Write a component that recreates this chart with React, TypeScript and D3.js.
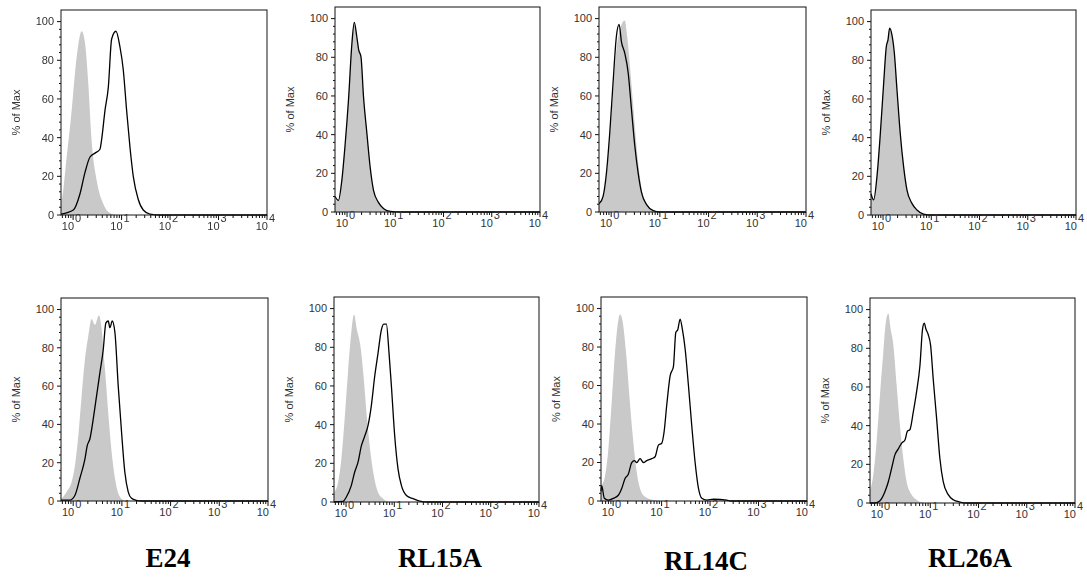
import React from "react";
import * as d3 from "d3";

type Pt = [number, number]; // [log10 intensity, % of max]

// ---- data: [log10(fluorescence), % of Max] ----
const e24TopControl: Pt[] = [[-0.25,7],[-0.236,8],[-0.133,30],[-0.03,54],[0.074,82],[0.177,95],[0.245,89],[0.313,68],[0.38,39],[0.486,18],[0.62,6],[0.76,1],[0.89,0]];
const e24TopSample: Pt[] = [[-0.25,0.5],[0.004,2.6],[0.142,11],[0.245,22],[0.348,30],[0.451,32],[0.554,34],[0.588,39],[0.657,54],[0.726,66],[0.795,91],[0.884,95],[0.966,87],[1.035,75],[1.104,54],[1.173,35],[1.241,20],[1.344,8],[1.447,2.6],[1.585,0.5],[1.8,0],[4,0]];

const rl15aTopControl: Pt[] = [[-0.25,6],[-0.18,6],[-0.11,16],[-0.04,35],[0.03,58],[0.1,87],[0.15,97],[0.2,90],[0.24,84],[0.29,79],[0.34,60],[0.41,41],[0.48,23],[0.55,11],[0.65,5],[0.76,1.7],[0.9,0]];
const rl15aTopSample: Pt[] = [[-0.25,8],[-0.18,6],[-0.11,16],[-0.04,35],[0.03,58],[0.1,87],[0.15,98],[0.2,91],[0.24,84],[0.29,80],[0.34,60],[0.41,41],[0.48,23],[0.55,11],[0.65,5],[0.76,1.7],[0.9,0.3],[1.1,0],[4,0]];

const rl14cTopControl: Pt[] = [[-0.25,5],[-0.167,7],[-0.098,18],[-0.029,38],[0.039,62],[0.108,84],[0.177,94],[0.28,99],[0.328,91],[0.383,76],[0.452,55],[0.521,34],[0.589,18],[0.658,8],[0.761,3],[0.898,0]];
const rl14cTopSample: Pt[] = [[-0.25,4.5],[-0.236,4.7],[-0.167,8],[-0.098,20],[-0.029,41],[0.039,67],[0.108,91],[0.163,97],[0.211,88],[0.28,82],[0.349,72],[0.417,53],[0.486,34],[0.555,20],[0.624,10],[0.727,3.8],[0.864,0.7],[1.0,0],[4,0]];

const rl26aTopControl: Pt[] = [[-0.25,10],[-0.195,8],[-0.126,20],[-0.057,42],[0.012,68],[0.067,87],[0.102,90],[0.136,96],[0.185,93],[0.233,84],[0.288,65],[0.357,42],[0.426,25],[0.495,13],[0.599,6],[0.702,2.6],[0.84,0.5],[0.95,0]];
const rl26aTopSample: Pt[] = [[-0.25,11],[-0.195,7.8],[-0.126,20],[-0.057,42],[0.012,68],[0.067,87],[0.102,90.5],[0.136,96.6],[0.185,93],[0.233,84],[0.288,65],[0.357,42],[0.426,25],[0.495,13],[0.599,6],[0.702,2.6],[0.84,0.5],[1.0,0],[4,0]];

const e24BotControl: Pt[] = [[-0.25,1.2],[-0.236,1.4],[-0.134,4.8],[-0.031,10],[0.037,18.7],[0.105,34],[0.174,55],[0.242,74],[0.31,86],[0.378,95],[0.447,92],[0.529,97],[0.583,90],[0.652,69],[0.72,46],[0.788,26],[0.857,12],[0.925,4],[1.027,0.5],[1.1,0]];
const e24BotSample: Pt[] = [[-0.25,0.5],[-0.134,0.5],[-0.066,0.5],[0.037,3],[0.139,12],[0.242,22],[0.29,29],[0.344,32.5],[0.413,43],[0.481,55],[0.549,67],[0.617,79],[0.672,93],[0.72,94],[0.754,90.5],[0.802,94],[0.857,88],[0.925,60],[0.993,36],[1.061,15],[1.13,4.8],[1.198,1.4],[1.3,0.3],[1.4,0],[4,0]];

const rl15aBotControl: Pt[] = [[-0.25,4],[-0.236,5],[-0.167,10],[-0.098,22],[-0.029,43],[0.04,67],[0.11,88],[0.165,97],[0.227,89],[0.296,81],[0.366,64],[0.435,43],[0.504,26],[0.573,14],[0.663,5],[0.767,1.7],[0.87,0.3],[0.95,0]];
const rl15aBotSample: Pt[] = [[-0.25,0],[-0.063,0.3],[0.006,2.6],[0.11,8.6],[0.179,15.5],[0.248,20.6],[0.317,29],[0.386,34],[0.455,39.5],[0.525,50],[0.594,65],[0.663,77],[0.732,89],[0.781,92],[0.836,92],[0.891,77],[0.94,60],[1.009,34],[1.078,17],[1.147,8.6],[1.251,3.4],[1.389,1.7],[1.527,0.5],[1.7,0],[4,0]];

const rl14cBotControl: Pt[] = [[-0.25,7],[-0.236,8],[-0.167,13],[-0.098,27],[-0.03,51],[0.039,77],[0.108,94],[0.143,97],[0.198,93],[0.267,77],[0.335,55],[0.404,34],[0.487,15],[0.556,6.5],[0.659,2.2],[0.831,0.5],[0.969,0]];
const rl14cBotSample: Pt[] = [[-0.25,5],[-0.236,8],[-0.181,1.4],[-0.098,0.5],[0.005,1.4],[0.108,3],[0.177,6.5],[0.246,11.7],[0.315,14],[0.384,20],[0.439,21],[0.487,20],[0.556,22],[0.625,20],[0.694,21],[0.797,22],[0.866,23],[0.935,29],[1.003,30],[1.052,36],[1.107,50],[1.176,65],[1.245,70],[1.293,87.6],[1.334,89],[1.382,94.5],[1.43,89],[1.486,79],[1.554,60],[1.623,39],[1.692,20],[1.761,6.5],[1.83,1.4],[1.933,0.5],[2.071,0.9],[2.346,0.5],[2.415,0],[4,0]];

const rl26aBotControl: Pt[] = [[-0.25,7],[-0.236,7.7],[-0.181,14.6],[-0.112,32],[-0.043,56],[0.026,78],[0.081,94],[0.13,98],[0.178,90],[0.233,82],[0.302,61],[0.371,40],[0.44,23],[0.509,11],[0.613,4.3],[0.716,1.7],[0.82,0.3],[0.9,0]];
const rl26aBotSample: Pt[] = [[-0.25,0],[-0.146,0],[-0.043,1.2],[0.061,6],[0.13,11],[0.199,18],[0.268,25],[0.337,28],[0.406,31],[0.475,32.6],[0.523,37],[0.578,38],[0.647,47],[0.716,57.6],[0.785,71],[0.84,90],[0.875,93],[0.909,90],[0.958,87],[1.006,81.6],[1.061,64],[1.13,44],[1.199,23],[1.268,11],[1.372,4.3],[1.475,1.7],[1.613,0.5],[1.75,0],[4,0]];

const cloneNames = ["E24", "RL15A", "RL14C", "RL26A"];
const yTickValues = [0, 20, 40, 60, 80, 100];
const xDecades = [0, 1, 2, 3, 4];
const yLabel = "% of Max";

// ---- layout ----
const X_MIN = Math.pow(10, -0.25);
const X_MAX = 1e4;
const Y_MAX = 106;

const panels = [
  { control: e24TopControl, sample: e24TopSample, left: 61, top: 10, w: 206, h: 205, blur: true },
  { control: rl15aTopControl, sample: rl15aTopSample, left: 335, top: 7, w: 205, h: 205 },
  { control: rl14cTopControl, sample: rl14cTopSample, left: 599, top: 7, w: 207, h: 205 },
  { control: rl26aTopControl, sample: rl26aTopSample, left: 871, top: 10, w: 205, h: 205 },
  { control: e24BotControl, sample: e24BotSample, left: 61, top: 298, w: 207, h: 203 },
  { control: rl15aBotControl, sample: rl15aBotSample, left: 334, top: 297, w: 205, h: 205 },
  { control: rl14cBotControl, sample: rl14cBotSample, left: 601, top: 297, w: 206, h: 204 },
  { control: rl26aBotControl, sample: rl26aBotSample, left: 870, top: 298, w: 205, h: 205 },
];

const titlePos = [
  { x: 168, y: 567 },
  { x: 440, y: 567 },
  { x: 706, y: 570 },
  { x: 970, y: 567 },
];

const FONT = "'Liberation Sans', Arial, sans-serif";

function Panel({ p }: { p: any }) {
  const x = d3.scaleLog().domain([X_MIN, X_MAX]).range([0, p.w]);
  const y = d3.scaleLinear().domain([0, Y_MAX]).range([p.h, 0]);
  const px = (d: Pt) => x(Math.pow(10, d[0]));
  const area = d3
    .area<Pt>()
    .x(px)
    .y0(y(0))
    .y1((d) => y(d[1]))
    .curve(d3.curveMonotoneX);
  const line = d3
    .line<Pt>()
    .x(px)
    .y((d) => y(d[1]))
    .curve(d3.curveMonotoneX);

  const minorX: number[] = [];
  for (let e = -1; e < 4; e++) {
    for (let m = 2; m <= 9; m++) {
      const v = m * Math.pow(10, e);
      if (v >= X_MIN && v <= X_MAX) minorX.push(v);
    }
  }
  const minorY = d3.range(0, 101, 4).filter((v) => v % 20 !== 0);

  return (
    <g transform={`translate(${p.left},${p.top})`} filter={p.blur ? "url(#soft)" : undefined}>
      <path d={area(p.control) || ""} fill="#c9c9c9" stroke="none" />
      <path d={line(p.sample) || ""} fill="none" stroke="#000" strokeWidth={1.3} />
      <rect x={0} y={0} width={p.w} height={p.h} fill="none" stroke="#111" strokeWidth={1} />
      {yTickValues.map((v) => (
        <g key={"y" + v} transform={`translate(0,${y(v)})`}>
          <line x1={-4} x2={0} stroke="#111" />
          <text x={-7} dy="0.35em" textAnchor="end" fontFamily={FONT} fontSize={11} fill="#333">
            {v}
          </text>
        </g>
      ))}
      {minorY.map((v) => (
        <line key={"my" + v} x1={-2} x2={0} y1={y(v)} y2={y(v)} stroke="#111" />
      ))}
      <text
        transform={`translate(${-45},${p.h / 2}) rotate(-90)`}
        textAnchor="middle"
        dy="0.35em"
        fontFamily={FONT}
        fontSize={11}
        fill="#333"
      >
        {yLabel}
      </text>
      {minorX.map((v) => (
        <line key={"mx" + v} x1={x(v)} x2={x(v)} y1={p.h} y2={p.h + 3} stroke="#111" />
      ))}
      {xDecades.map((e) => {
        const xv = x(Math.pow(10, e));
        return (
          <g key={"x" + e} transform={`translate(${xv},${p.h})`}>
            <line y1={0} y2={5} stroke="#111" />
            <text x={1} y={15} textAnchor="end" fontFamily={FONT} fontSize={11} fill="#333">
              10
            </text>
            <text x={2} y={7} textAnchor="start" fontFamily={FONT} fontSize={11} fill="#333">
              {e}
            </text>
          </g>
        );
      })}
    </g>
  );
}

export default function App() {
  return (
    <svg
      width={1087}
      height={577}
      style={{ position: "absolute", left: 0, top: 0, background: "#fff" }}
    >
      <defs>
        <filter id="soft" x="-20%" y="-20%" width="140%" height="140%">
          <feGaussianBlur stdDeviation="0.6" />
        </filter>
      </defs>
      <rect width={1087} height={577} fill="#fff" />
      {panels.map((p, i) => (
        <Panel key={i} p={p} />
      ))}
      {cloneNames.map((n, i) => (
        <text
          key={n}
          x={titlePos[i].x}
          y={titlePos[i].y}
          textAnchor="middle"
          fontFamily="'Liberation Serif', 'Times New Roman', serif"
          fontWeight="bold"
          fontSize={27}
          fill="#000"
        >
          {n}
        </text>
      ))}
    </svg>
  );
}
